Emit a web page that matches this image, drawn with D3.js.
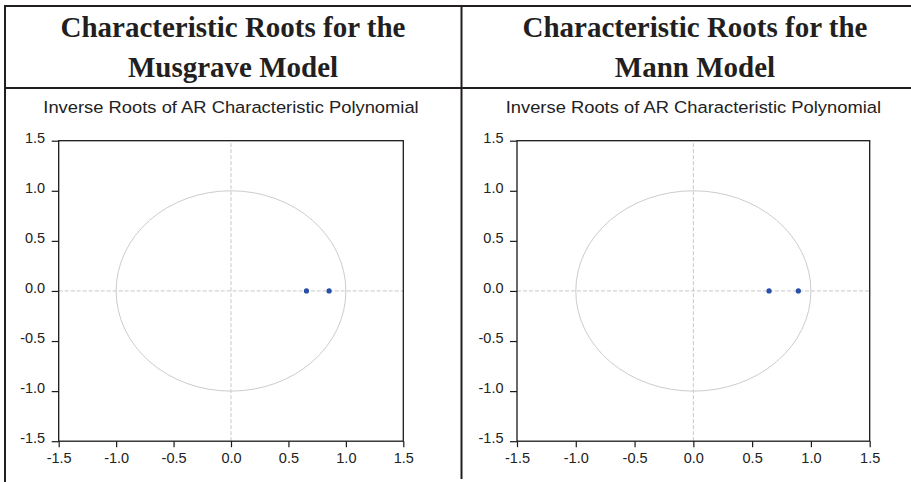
<!DOCTYPE html>
<html>
<head>
<meta charset="utf-8">
<script src="https://cdn.jsdelivr.net/npm/d3@7/dist/d3.min.js"></script>
<style>
  html, body { margin: 0; padding: 0; background: #fff; }
  svg { display: block; }
</style>
</head>
<body>
<svg id="chart" width="911" height="482"></svg>
<script>
// ---- Data ----
const panelTitles = [
  ["Characteristic Roots for the", "Musgrave Model"],
  ["Characteristic Roots for the", "Mann Model"]
];
const subtitle = "Inverse Roots of AR Characteristic Polynomial";
const tickValues = [-1.5, -1.0, -0.5, 0.0, 0.5, 1.0, 1.5];
const tickLabels = ["-1.5", "-1.0", "-0.5", "0.0", "0.5", "1.0", "1.5"];
const musgraveReal = [0.657, 0.854];
const musgraveImag = [0.0, 0.0];
const mannReal = [0.644, 0.893];
const mannImag = [0.0, 0.0];

const panels = [
  { real: musgraveReal, imag: musgraveImag, x0: 58.7, x1: 403.3, titleX: 233 },
  { real: mannReal, imag: mannImag, x0: 517, x1: 869.7, titleX: 695 }
];

const svg = d3.select("#chart");
const ink = "#231f20";

// ---- Table borders ----
const borders = svg.append("g").attr("stroke", ink).attr("stroke-width", 2);
borders.append("line").attr("x1", 4).attr("x2", 911).attr("y1", 6).attr("y2", 6);
borders.append("line").attr("x1", 4).attr("x2", 911).attr("y1", 88).attr("y2", 88);
borders.append("line").attr("x1", 5).attr("x2", 5).attr("y1", 5).attr("y2", 482);
borders.append("line").attr("x1", 461.5).attr("x2", 461.5).attr("y1", 5).attr("y2", 479);

const fmt = d => tickLabels[tickValues.indexOf(d)];

panels.forEach((p, i) => {
  // titles
  const t = svg.append("text")
    .attr("font-family", "'Liberation Serif', 'Times New Roman', serif")
    .attr("font-weight", "bold")
    .attr("font-size", 29)
    .attr("fill", ink)
    .attr("text-anchor", "middle");
  t.append("tspan").attr("x", p.titleX).attr("y", 37).text(panelTitles[i][0]);
  t.append("tspan").attr("x", p.titleX).attr("y", 77).text(panelTitles[i][1]);

  const x = d3.scaleLinear().domain([-1.5, 1.5]).range([p.x0, p.x1]);
  const y = d3.scaleLinear().domain([-1.5, 1.5]).range([441.2, 140.7]);

  const g = svg.append("g");

  // subtitle
  const cx = (p.x0 + p.x1) / 2;
  g.append("text")
    .attr("transform", `translate(${cx},112.5) scale(1.08,1)`)
    .attr("text-anchor", "middle")
    .attr("font-family", "'Liberation Sans', Arial, sans-serif")
    .attr("font-size", 17)
    .attr("fill", "#222")
    .text(subtitle);

  // dashed zero lines
  g.append("line")
    .attr("x1", x(-1.5)).attr("x2", x(1.5))
    .attr("y1", y(0)).attr("y2", y(0))
    .attr("stroke", "#c8c8c8").attr("stroke-width", 1)
    .attr("stroke-dasharray", "4,2");
  g.append("line")
    .attr("x1", x(0)).attr("x2", x(0))
    .attr("y1", y(-1.5)).attr("y2", y(1.5))
    .attr("stroke", "#c8c8c8").attr("stroke-width", 1)
    .attr("stroke-dasharray", "4,2");

  // unit circle
  g.append("ellipse")
    .attr("cx", x(0)).attr("cy", y(0))
    .attr("rx", x(1) - x(0)).attr("ry", y(0) - y(1))
    .attr("fill", "none")
    .attr("stroke", "#cccccc").attr("stroke-width", 1);

  // frame
  g.append("rect")
    .attr("x", x(-1.5)).attr("y", y(1.5))
    .attr("width", x(1.5) - x(-1.5)).attr("height", y(-1.5) - y(1.5))
    .attr("fill", "none").attr("stroke", "#1a1a1a").attr("stroke-width", 1.3);

  // axes
  const xAxis = g.append("g")
    .attr("transform", `translate(0,${y(-1.5)})`)
    .call(d3.axisBottom(x).tickValues(tickValues).tickFormat(fmt).tickSize(6).tickSizeOuter(0));
  xAxis.select(".domain").remove();
  xAxis.selectAll("line").attr("stroke", "#1a1a1a").attr("stroke-width", 1.2);
  xAxis.selectAll("text")
    .attr("y", 22).attr("dy", 0)
    .attr("font-family", "'Liberation Sans', Arial, sans-serif")
    .attr("font-size", 14.5).attr("fill", "#222");

  const yAxis = g.append("g")
    .attr("transform", `translate(${x(-1.5)},0)`)
    .call(d3.axisLeft(y).tickValues(tickValues).tickFormat(fmt).tickSize(7).tickSizeOuter(0));
  yAxis.select(".domain").remove();
  yAxis.selectAll("line").attr("stroke", "#1a1a1a").attr("stroke-width", 1.2);
  yAxis.selectAll("text")
    .attr("x", -13.5).attr("y", 1.5).attr("dy", 0)
    .attr("font-family", "'Liberation Sans', Arial, sans-serif")
    .attr("font-size", 14.5).attr("fill", "#222");

  // roots
  g.selectAll("circle.root")
    .data(p.real.map((r, k) => ({ re: r, im: p.imag[k] })))
    .join("circle")
    .attr("class", "root")
    .attr("cx", d => x(d.re))
    .attr("cy", d => y(d.im))
    .attr("r", 2.6)
    .attr("fill", "#2a4fa8");
});
</script>
</body>
</html>
